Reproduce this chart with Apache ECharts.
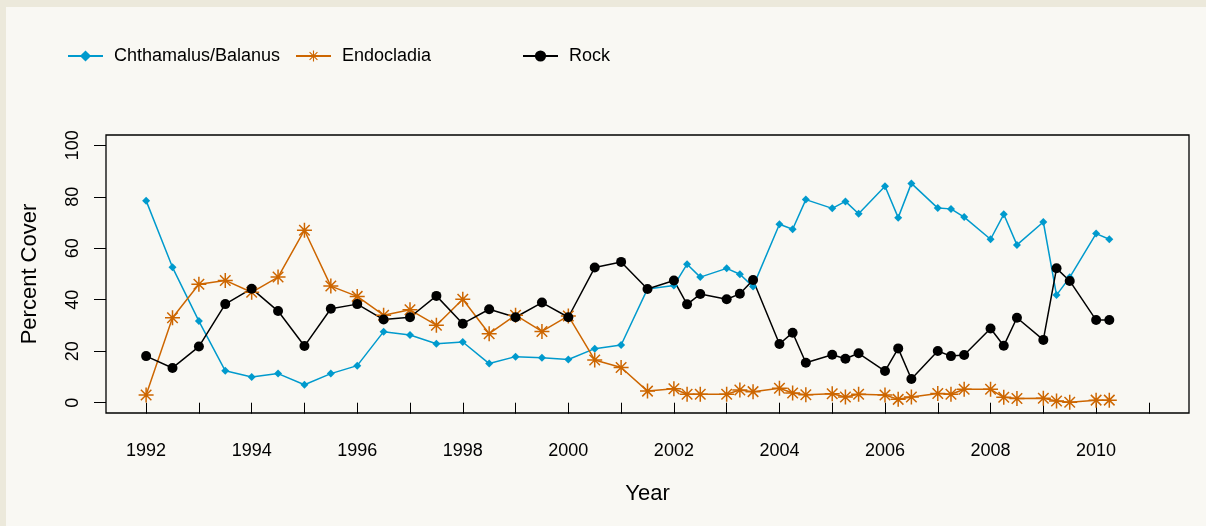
<!DOCTYPE html>
<html>
<head>
<meta charset="utf-8">
<script src="https://cdn.jsdelivr.net/npm/echarts@6/dist/echarts.min.js"></script>
<style>
  html, body { margin: 0; padding: 0; background: #ECE9DB; }
  #panel { position: absolute; left: 6px; top: 7px; right: 0; bottom: 0; background: #F9F8F3; }
  #chart { position: absolute; left: 0; top: 0; width: 1206px; height: 526px; }
</style>
</head>
<body>
<div id="panel"></div>
<div id="chart"></div>
<script>
const years = [1992,1992.5,1993,1993.5,1994,1994.5,1995,1995.5,1996,1996.5,1997,1997.5,1998,1998.5,1999,1999.5,2000,2000.5,2001,2001.5,2002,2002.25,2002.5,2003,2003.25,2003.5,2004,2004.25,2004.5,2005,2005.25,2005.5,2006,2006.25,2006.5,2007,2007.25,2007.5,2008,2008.25,2008.5,2009,2009.25,2009.5,2010,2010.25];
const chthamalus = [78.5,52.6,31.7,12.4,10.0,11.3,7.0,11.3,14.4,27.6,26.3,22.9,23.6,15.2,17.9,17.5,16.8,21.0,22.4,44.2,45.5,53.8,48.8,52.2,49.9,45.1,69.3,67.4,78.9,75.5,78.2,73.4,84.1,71.9,85.2,75.6,75.3,72.1,63.5,73.2,61.3,70.2,41.8,48.7,65.7,63.5];
const endocladia = [3.0,33.0,46.0,47.5,42.9,48.8,67.0,45.3,41.3,34.0,36.1,30.1,40.2,26.8,34.0,27.7,33.7,16.6,13.7,4.5,5.4,3.3,3.3,3.3,4.9,4.3,5.6,3.8,3.1,3.5,2.2,3.3,3.0,1.3,2.2,3.6,3.3,5.2,5.2,2.1,1.6,1.7,0.7,0.2,1.0,1.0];
const rock = [18.1,13.5,21.8,38.3,44.3,35.6,22.0,36.5,38.3,32.3,33.2,41.5,30.7,36.3,33.2,38.9,33.2,52.5,54.7,44.2,47.5,38.2,42.2,40.2,42.3,47.7,22.8,27.2,15.5,18.6,17.1,19.2,12.3,21.1,9.2,20.1,18.1,18.5,28.8,22.1,33.0,24.4,52.2,47.3,32.1,32.1];
const seriesNames = ['Chthamalus/Balanus', 'Endocladia', 'Rock'];
const xTicks = [1992,1993,1994,1995,1996,1997,1998,1999,2000,2001,2002,2003,2004,2005,2006,2007,2008,2009,2010,2011];
const xLabels = [1992,1994,1996,1998,2000,2002,2004,2006,2008,2010];
const yTicks = [0,20,40,60,80,100];

const colors = ['#009ACD', '#CD6600', '#000000'];
const asterisk = 'path://M9,0L11,0L11,20L9,20Z M0,9L20,9L20,11L0,11Z M3.7,2.3L17.7,16.3L16.3,17.7L2.3,3.7Z M16.3,2.3L17.7,3.7L3.7,17.7L2.3,16.3Z';

function pairs(vals) { return years.map((y, i) => [y, vals[i]]); }

const font = 'Liberation Sans, Arial, sans-serif';
const chart = echarts.init(document.getElementById('chart'), null, { renderer: 'canvas' });
const legendBase = {
  top: 42, itemWidth: 35, itemHeight: 14,
  textStyle: { fontFamily: font, fontSize: 18, color: '#000', padding: [0, 0, 0, 6] },
  selectedMode: false
};
chart.setOption({
  backgroundColor: 'transparent',
  animation: false,
  color: colors,
  legend: [
    Object.assign({}, legendBase, { left: 62, data: [seriesNames[0]] }),
    Object.assign({}, legendBase, { left: 290, data: [seriesNames[1]] }),
    Object.assign({}, legendBase, { left: 517, data: [seriesNames[2]] })
  ],
  grid: { left: 106, top: 135, right: 17, bottom: 113, show: true, borderColor: '#000', borderWidth: 1.3, backgroundColor: 'transparent' },
  xAxis: {
    type: 'value', min: 1991.24, max: 2011.76,
    name: 'Year', nameLocation: 'middle', nameGap: 70,
    nameTextStyle: { fontFamily: font, fontSize: 22, color: '#000' },
    axisLine: { show: false },
    splitLine: { show: false },
    axisTick: { show: true, length: 11, customValues: xTicks, lineStyle: { color: '#000', width: 1 } },
    axisLabel: { customValues: xLabels, margin: 29, fontFamily: font, fontSize: 18, color: '#000', formatter: v => String(v) }
  },
  yAxis: {
    type: 'value', min: -4, max: 104,
    name: 'Percent Cover', nameLocation: 'middle', nameGap: 65, nameRotate: 90,
    nameTextStyle: { fontFamily: font, fontSize: 22, color: '#000' },
    axisLine: { show: false },
    splitLine: { show: false },
    axisTick: { show: true, length: 12, customValues: yTicks, lineStyle: { color: '#000', width: 1 } },
    axisLabel: { customValues: yTicks, rotate: 90, margin: 24, fontFamily: font, fontSize: 18, color: '#000' }
  },
  series: [
    { name: seriesNames[0], type: 'line', data: pairs(chthamalus), symbol: 'diamond', symbolSize: 8,
      lineStyle: { width: 1.5, color: colors[0] }, itemStyle: { color: colors[0], borderWidth: 0 } },
    { name: seriesNames[1], type: 'line', data: pairs(endocladia), symbol: asterisk, symbolSize: 15,
      lineStyle: { width: 1.5, color: colors[1] }, itemStyle: { color: colors[1], borderWidth: 0 } },
    { name: seriesNames[2], type: 'line', data: pairs(rock), symbol: 'circle', symbolSize: 10,
      lineStyle: { width: 1.5, color: colors[2] }, itemStyle: { color: colors[2], borderWidth: 0 } }
  ]
});
</script>
</body>
</html>
